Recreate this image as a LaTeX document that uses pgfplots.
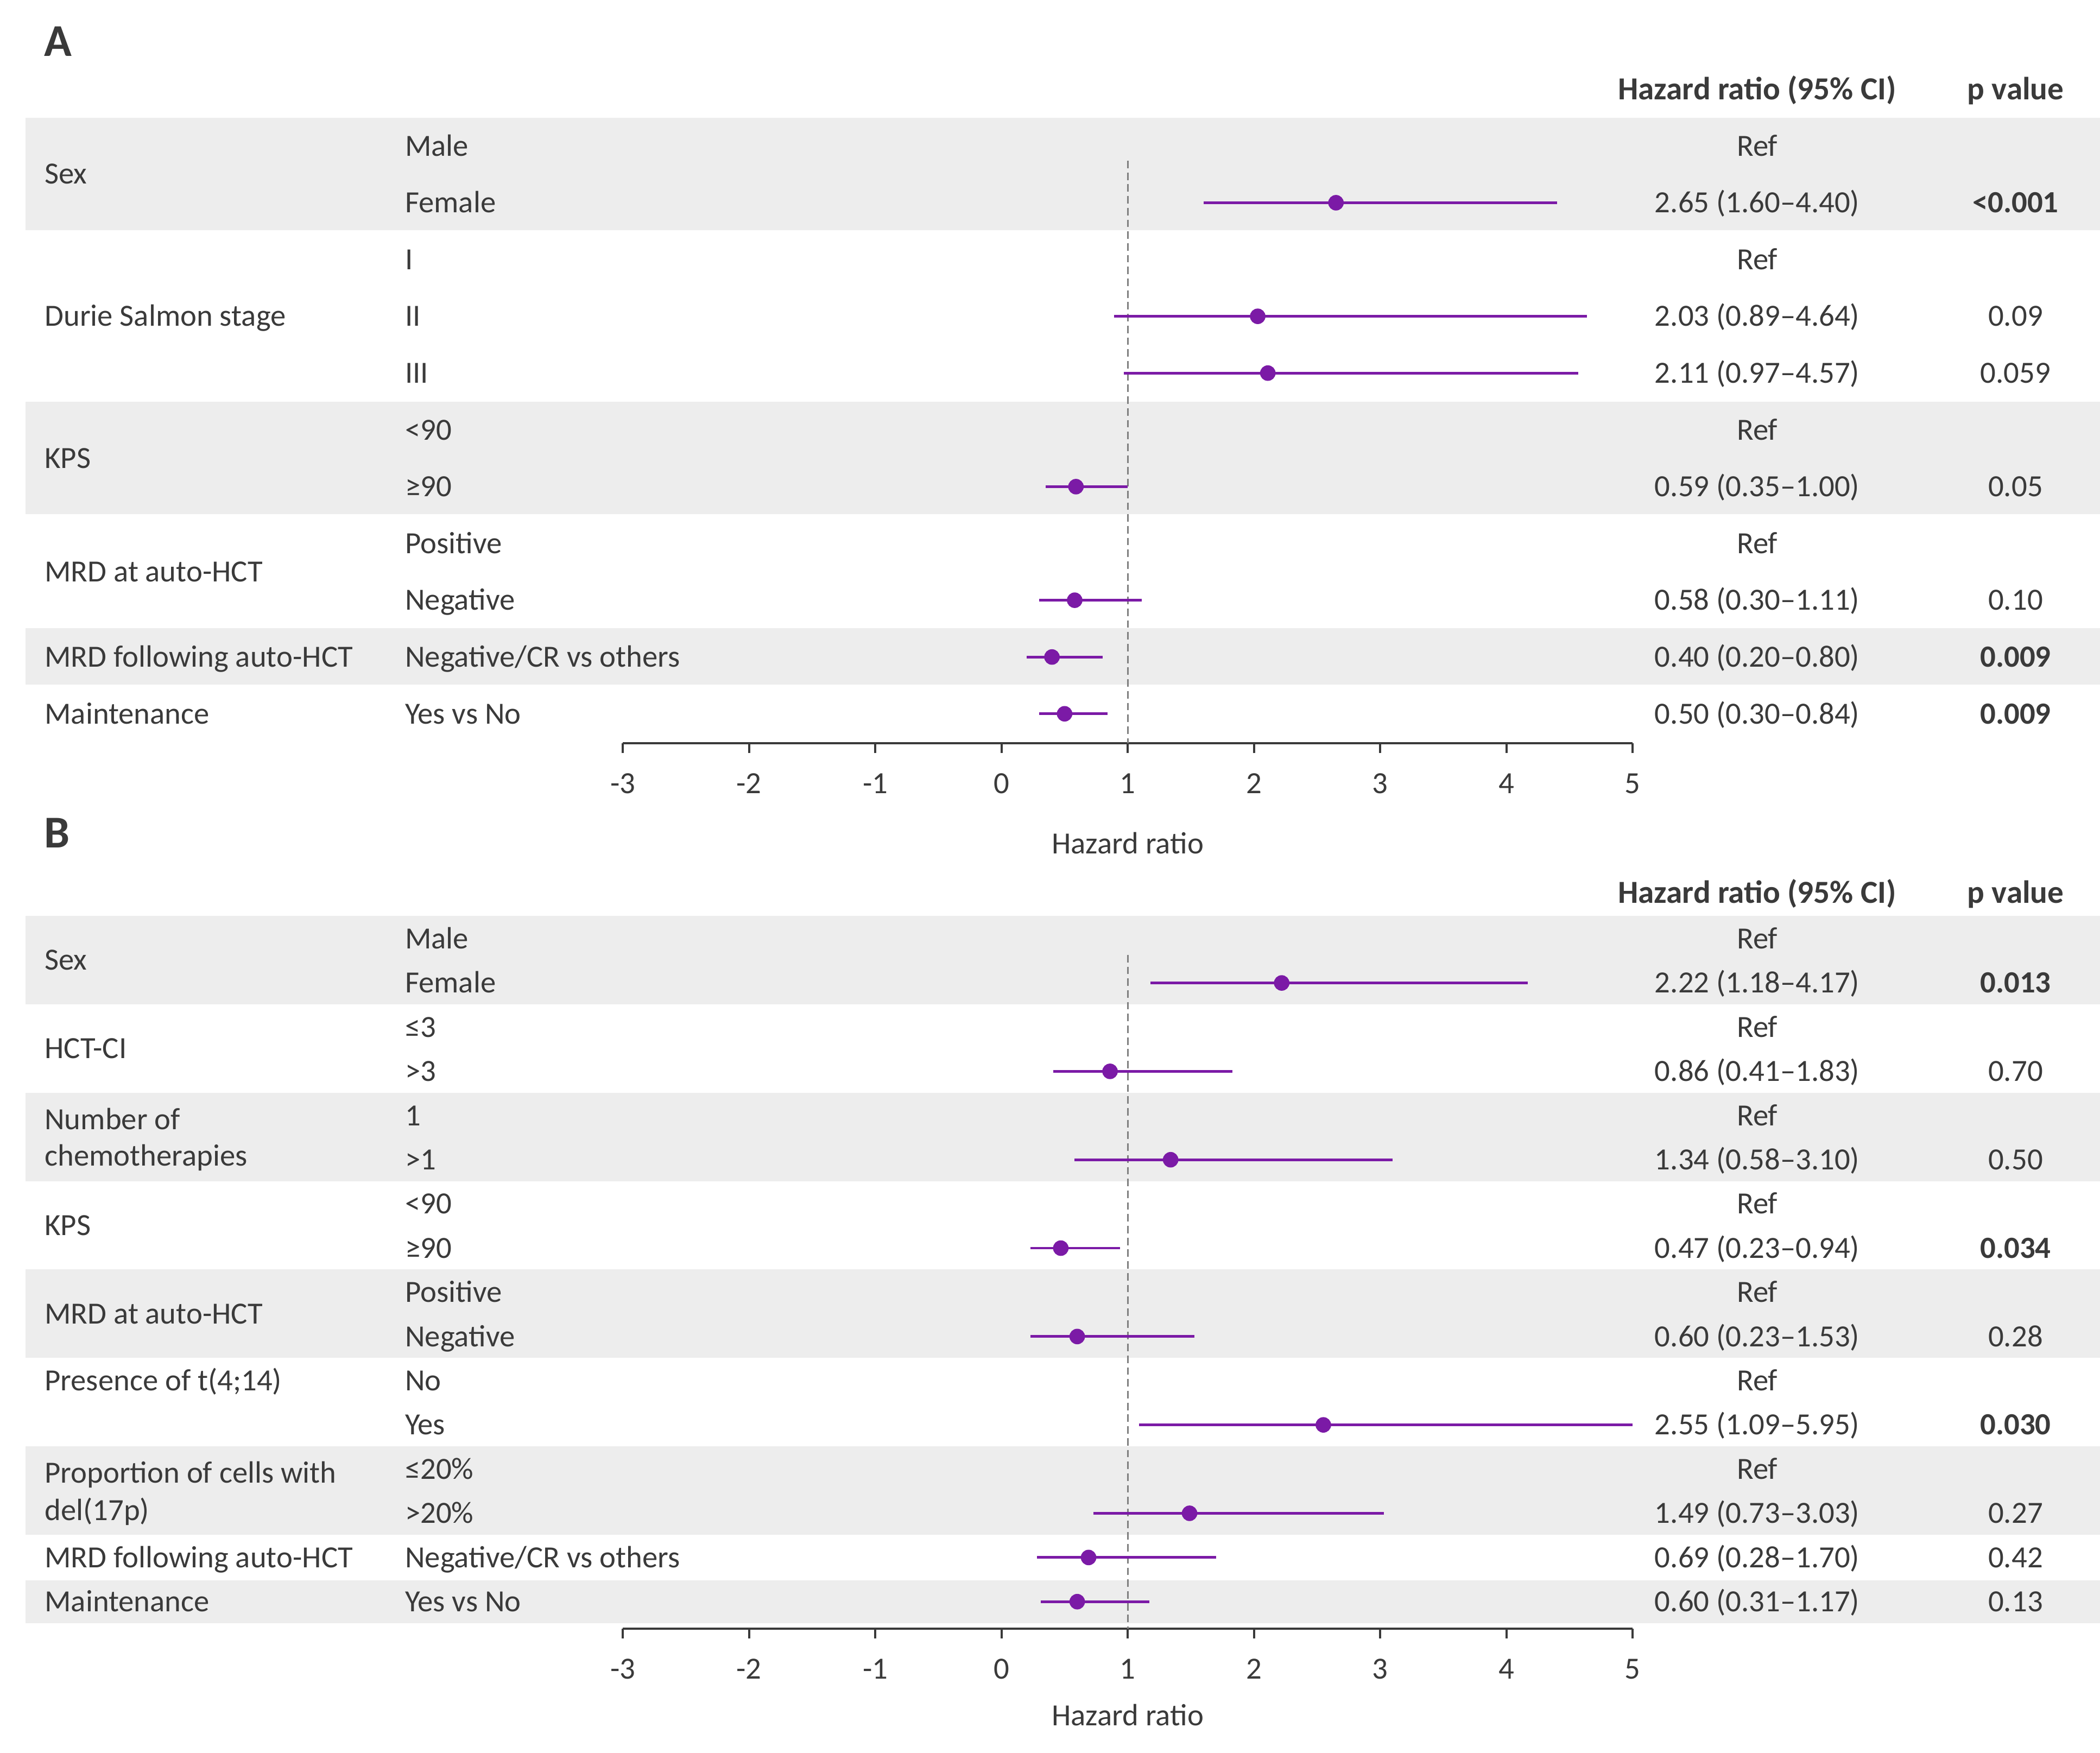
\documentclass[border=0pt]{standalone}
\usepackage{pgfplots}
\pgfplotsset{compat=1.18}
\usepackage{pgfplotstable}
\usepackage{fontspec}
\setmainfont{Carlito}
\definecolor{purp}{RGB}{123,26,166}
\definecolor{band}{RGB}{237,237,237}
\definecolor{txt}{RGB}{58,58,58}
\definecolor{refl}{RGB}{128,128,128}
\newcommand\fs{\fontsize{11.5}{13}\selectfont}

% y = row position (vertical position in the layout), hr, lower, upper
\pgfplotstableread{
y hr lo hi
-151.4 2.65 1.60 4.40
-236.2 2.03 0.89 4.64
-278.6 2.11 0.97 4.57
-363.4 0.59 0.35 1.00
-448.2 0.58 0.30 1.11
-490.6 0.40 0.20 0.80
-533.0 0.50 0.30 0.84
}\dataA

\pgfplotstableread{
y hr lo hi
-734 2.22 1.18 4.17
-800 0.86 0.41 1.83
-866 1.34 0.58 3.10
-932 0.47 0.23 0.94
-998 0.60 0.23 1.53
-1064 2.55 1.09 5.95
-1130 1.49 0.73 3.03
-1163 0.69 0.28 1.70
-1196 0.60 0.31 1.17
}\dataB

\pgfplotsset{forest/.style={
  x=47.125pt, y=0.5pt, xmin=-3, xmax=5, clip=false,
  axis x line=bottom, axis y line=none,
  axis line style={-, line width=0.8pt, draw=txt},
  xtick={-3,-2,-1,0,1,2,3,4,5},
  tick align=outside, major tick length=3.7pt,
  tick style={line width=0.8pt, draw=txt},
  xticklabel style={font=\fs, text=txt, inner sep=0pt, text height=7.4pt, text depth=0pt, anchor=north, yshift=-7.5pt},
  /pgf/number format/assume math mode=true,
},
ci/.style={only marks, mark=*, color=purp, mark size=2.7pt,
    error bars/.cd, x dir=both, x explicit, error mark=none,
    error bar style={line width=1pt, color=purp, solid}},
}
\tikzset{
  lab/.style={anchor=west, inner sep=0pt, text height=7.4pt, text depth=0pt, text=txt, font=\fs},
  cen/.style={lab, anchor=center},
  bcen/.style={cen, font=\fs\bfseries},
  hcen/.style={cen, font=\fontsize{12}{14}\selectfont\bfseries},
  pan/.style={anchor=west, inner sep=0pt, text height=11pt, text depth=0pt, text=txt, font=\fontsize{17}{19}\selectfont\bfseries},
}

\begin{document}
\begin{tikzpicture}
% ---------------- Panel A ----------------
\begin{axis}[forest, ymin=-555, ymax=-88, at={(0pt,0pt)}, anchor=south west]
\path (axis cs:-7.934,0) rectangle (axis cs:8.703,-1309);
\addplot[fill=band, draw=none, forget plot] coordinates {(-7.732,-88) (8.703,-88) (8.703,-172) (-7.732,-172)} -- cycle;
\addplot[fill=band, draw=none, forget plot] coordinates {(-7.732,-300) (8.703,-300) (8.703,-384) (-7.732,-384)} -- cycle;
\addplot[fill=band, draw=none, forget plot] coordinates {(-7.732,-469) (8.703,-469) (8.703,-511) (-7.732,-511)} -- cycle;
\addplot[refl, line width=0.6pt, dash pattern=on 2.8pt off 1.6pt, forget plot] coordinates {(1,-120) (1,-555)};
\addplot[ci] table[x=hr, y=y,
  x error plus expr={min(\thisrow{hi},5)-\thisrow{hr}},
  x error minus expr={\thisrow{hr}-\thisrow{lo}}] {\dataA};

\node[pan] at (axis cs:-7.587,-31) {A};
\node[hcen] at (axis cs:5.987,-67) {Hazard ratio (95\% CI)};
\node[hcen] at (axis cs:8.034,-67) {p value};
\node[cen] at (axis cs:1,-630) {Hazard ratio};

\node[lab] at (axis cs:-7.584,-130) {Sex};
\node[lab] at (axis cs:-7.584,-236.2) {Durie Salmon stage};
\node[lab] at (axis cs:-7.584,-342.2) {KPS};
\node[lab] at (axis cs:-7.584,-427) {MRD at auto-HCT};
\node[lab] at (axis cs:-7.584,-490.6) {MRD following auto-HCT};
\node[lab] at (axis cs:-7.584,-533) {Maintenance};

\node[lab] at (axis cs:-4.729,-109) {Male};
\node[lab] at (axis cs:-4.729,-151.4) {Female};
\node[lab] at (axis cs:-4.729,-193.8) {I};
\node[lab] at (axis cs:-4.729,-236.2) {II};
\node[lab] at (axis cs:-4.729,-278.6) {III};
\node[lab] at (axis cs:-4.729,-321) {<90};
\node[lab] at (axis cs:-4.729,-363.4) {≥90};
\node[lab] at (axis cs:-4.729,-405.8) {Positive};
\node[lab] at (axis cs:-4.729,-448.2) {Negative};
\node[lab] at (axis cs:-4.729,-490.6) {Negative/CR vs others};
\node[lab] at (axis cs:-4.729,-533) {Yes vs No};

\node[cen] at (axis cs:5.987,-109) {Ref};
\node[cen] at (axis cs:5.987,-151.4) {2.65 (1.60–4.40)};
\node[cen] at (axis cs:5.987,-193.8) {Ref};
\node[cen] at (axis cs:5.987,-236.2) {2.03 (0.89–4.64)};
\node[cen] at (axis cs:5.987,-278.6) {2.11 (0.97–4.57)};
\node[cen] at (axis cs:5.987,-321) {Ref};
\node[cen] at (axis cs:5.987,-363.4) {0.59 (0.35–1.00)};
\node[cen] at (axis cs:5.987,-405.8) {Ref};
\node[cen] at (axis cs:5.987,-448.2) {0.58 (0.30–1.11)};
\node[cen] at (axis cs:5.987,-490.6) {0.40 (0.20–0.80)};
\node[cen] at (axis cs:5.987,-533) {0.50 (0.30–0.84)};

\node[bcen] at (axis cs:8.034,-151.4) {<0.001};
\node[cen] at (axis cs:8.034,-236.2) {0.09};
\node[cen] at (axis cs:8.034,-278.6) {0.059};
\node[cen] at (axis cs:8.034,-363.4) {0.05};
\node[cen] at (axis cs:8.034,-448.2) {0.10};
\node[bcen] at (axis cs:8.034,-490.6) {0.009};
\node[bcen] at (axis cs:8.034,-533) {0.009};
\end{axis}

% ---------------- Panel B ----------------
\begin{axis}[forest, ymin=-1216, ymax=-684, at={(0pt,-330.5pt)}, anchor=south west]
\addplot[fill=band, draw=none, forget plot] coordinates {(-7.732,-684) (8.703,-684) (8.703,-750) (-7.732,-750)} -- cycle;
\addplot[fill=band, draw=none, forget plot] coordinates {(-7.732,-816) (8.703,-816) (8.703,-882) (-7.732,-882)} -- cycle;
\addplot[fill=band, draw=none, forget plot] coordinates {(-7.732,-948) (8.703,-948) (8.703,-1014) (-7.732,-1014)} -- cycle;
\addplot[fill=band, draw=none, forget plot] coordinates {(-7.732,-1080) (8.703,-1080) (8.703,-1146) (-7.732,-1146)} -- cycle;
\addplot[fill=band, draw=none, forget plot] coordinates {(-7.732,-1180) (8.703,-1180) (8.703,-1212) (-7.732,-1212)} -- cycle;
\addplot[refl, line width=0.6pt, dash pattern=on 2.8pt off 1.6pt, forget plot] coordinates {(1,-713) (1,-1216)};
\addplot[ci] table[x=hr, y=y,
  x error plus expr={min(\thisrow{hi},5)-\thisrow{hr}},
  x error minus expr={\thisrow{hr}-\thisrow{lo}}] {\dataB};

\node[pan] at (axis cs:-7.587,-622) {B};
\node[hcen] at (axis cs:5.987,-667) {Hazard ratio (95\% CI)};
\node[hcen] at (axis cs:8.034,-667) {p value};
\node[cen] at (axis cs:1,-1281) {Hazard ratio};

\node[lab] at (axis cs:-7.584,-717) {Sex};
\node[lab] at (axis cs:-7.584,-783) {HCT-CI};
\node[lab] at (axis cs:-7.584,-836) {Number of};
\node[lab] at (axis cs:-7.584,-863) {chemotherapies};
\node[lab] at (axis cs:-7.584,-915) {KPS};
\node[lab] at (axis cs:-7.584,-981) {MRD at auto-HCT};
\node[lab] at (axis cs:-7.584,-1031) {Presence of t(4;14)};
\node[lab] at (axis cs:-7.584,-1100) {Proportion of cells with};
\node[lab] at (axis cs:-7.584,-1128) {del(17p)};
\node[lab] at (axis cs:-7.584,-1163) {MRD following auto-HCT};
\node[lab] at (axis cs:-7.584,-1196) {Maintenance};

\node[lab] at (axis cs:-4.729,-701) {Male};
\node[lab] at (axis cs:-4.729,-734) {Female};
\node[lab] at (axis cs:-4.729,-767) {≤3};
\node[lab] at (axis cs:-4.729,-800) {>3};
\node[lab] at (axis cs:-4.729,-833) {1};
\node[lab] at (axis cs:-4.729,-866) {>1};
\node[lab] at (axis cs:-4.729,-899) {<90};
\node[lab] at (axis cs:-4.729,-932) {≥90};
\node[lab] at (axis cs:-4.729,-965) {Positive};
\node[lab] at (axis cs:-4.729,-998) {Negative};
\node[lab] at (axis cs:-4.729,-1031) {No};
\node[lab] at (axis cs:-4.729,-1064) {Yes};
\node[lab] at (axis cs:-4.729,-1097) {≤20\%};
\node[lab] at (axis cs:-4.729,-1130) {>20\%};
\node[lab] at (axis cs:-4.729,-1163) {Negative/CR vs others};
\node[lab] at (axis cs:-4.729,-1196) {Yes vs No};

\node[cen] at (axis cs:5.987,-701) {Ref};
\node[cen] at (axis cs:5.987,-734) {2.22 (1.18–4.17)};
\node[cen] at (axis cs:5.987,-767) {Ref};
\node[cen] at (axis cs:5.987,-800) {0.86 (0.41–1.83)};
\node[cen] at (axis cs:5.987,-833) {Ref};
\node[cen] at (axis cs:5.987,-866) {1.34 (0.58–3.10)};
\node[cen] at (axis cs:5.987,-899) {Ref};
\node[cen] at (axis cs:5.987,-932) {0.47 (0.23–0.94)};
\node[cen] at (axis cs:5.987,-965) {Ref};
\node[cen] at (axis cs:5.987,-998) {0.60 (0.23–1.53)};
\node[cen] at (axis cs:5.987,-1031) {Ref};
\node[cen] at (axis cs:5.987,-1064) {2.55 (1.09–5.95)};
\node[cen] at (axis cs:5.987,-1097) {Ref};
\node[cen] at (axis cs:5.987,-1130) {1.49 (0.73–3.03)};
\node[cen] at (axis cs:5.987,-1163) {0.69 (0.28–1.70)};
\node[cen] at (axis cs:5.987,-1196) {0.60 (0.31–1.17)};

\node[bcen] at (axis cs:8.034,-734) {0.013};
\node[cen] at (axis cs:8.034,-800) {0.70};
\node[cen] at (axis cs:8.034,-866) {0.50};
\node[bcen] at (axis cs:8.034,-932) {0.034};
\node[cen] at (axis cs:8.034,-998) {0.28};
\node[bcen] at (axis cs:8.034,-1064) {0.030};
\node[cen] at (axis cs:8.034,-1130) {0.27};
\node[cen] at (axis cs:8.034,-1163) {0.42};
\node[cen] at (axis cs:8.034,-1196) {0.13};
\end{axis}
\end{tikzpicture}
\end{document}
